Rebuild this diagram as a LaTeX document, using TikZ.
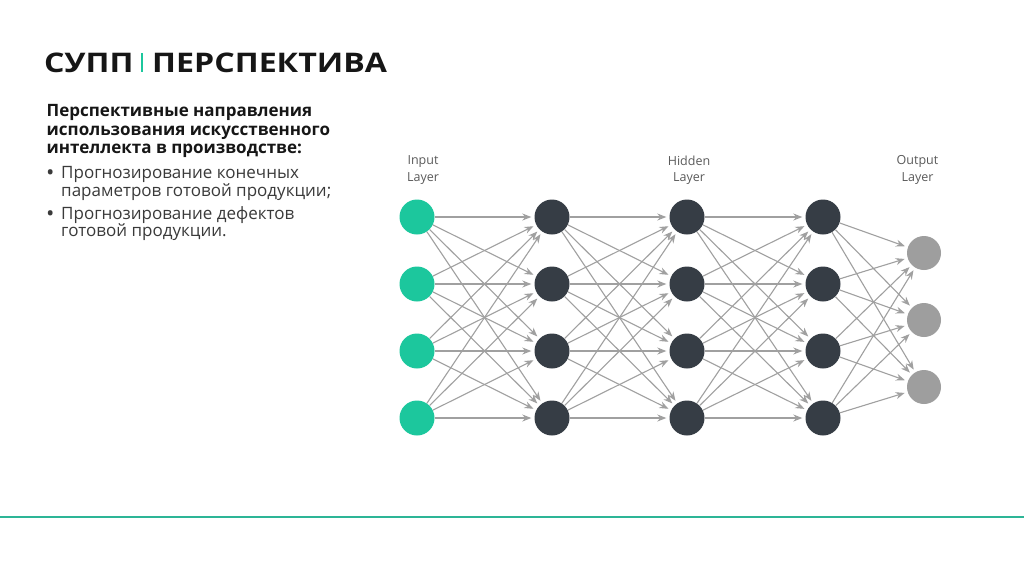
\documentclass[tikz,border=0pt]{standalone}
\usepackage{fontspec}
\setmainfont{Open Sans}
\usetikzlibrary{arrows.meta}
\definecolor{teal1}{HTML}{1CC79D}
\definecolor{darknode}{HTML}{363D45}
\definecolor{outnode}{HTML}{9E9E9E}
\definecolor{edgecol}{HTML}{A0A0A0}
\definecolor{labelcol}{HTML}{5A5A5A}
\definecolor{bodycol}{HTML}{3A3A3A}
\definecolor{headcol}{HTML}{161616}
\definecolor{linecol}{HTML}{2DB596}
\tikzset{
  neuron/.style={circle, minimum size=35pt, inner sep=0pt},
  innode/.style={neuron, fill=teal1},
  hidnode/.style={neuron, fill=darknode},
  outn/.style={neuron, minimum size=34pt, fill=outnode},
  conn/.style={draw=edgecol, line width=1.1pt, -{Stealth[length=9pt,width=7pt]}, shorten >=3pt},
  layerlabel/.style={font=\fontsize{12.5}{16.5}\selectfont, text=labelcol, align=center, inner sep=0pt},
  bodytext/.style={anchor=base west, inner sep=0pt, font=\fontsize{17}{18}\selectfont, text=bodycol},
  headtext/.style={anchor=base west, inner sep=0pt, font=\fontsize{17}{18}\selectfont\bfseries, text=headcol},
}
\begin{document}
\begin{tikzpicture}[x=1pt,y=-1pt]
\useasboundingbox (0,0) rectangle (1024,574);
\fill[white] (0,0) rectangle (1024,574);

% title
\node[anchor=base west, inner sep=0pt, font=\fontsize{27}{30}\selectfont\bfseries, text=headcol, xscale=1.19] (t1) at (44,72) {СУПП};
\node[anchor=base west, inner sep=0pt, font=\fontsize{27}{30}\selectfont\bfseries, text=headcol, xscale=1.19] (t2) at (152,72) {ПЕРСПЕКТИВА};
\draw[teal1, line width=1.8pt] (141.7,53) -- (141.7,72);

% left text
\node[headtext] (h1) at (46.5,116.7) {Перспективные направления};
\node[headtext] (h2) at (46.5,135.3) {использования искусственного};
\node[headtext] (h3) at (46.5,153.3) {интеллекта в производстве:};
\node[bodytext, font=\fontsize{17}{18}\selectfont\bfseries] (b1d) at (47,178.5) {•};
\node[bodytext] (b1) at (61,178.5) {Прогнозирование конечных};
\node[bodytext] (b1b) at (61,196) {параметров готовой продукции;};
\node[bodytext, font=\fontsize{17}{18}\selectfont\bfseries] (b2d) at (47,219) {•};
\node[bodytext] (b2) at (61,219) {Прогнозирование дефектов};
\node[bodytext] (b2b) at (61,236.5) {готовой продукции.};

% layer labels
\node[layerlabel] (lin) at (423,170) {Input\\Layer};
\node[layerlabel] (lhid) at (689,170) {Hidden\\Layer};
\node[layerlabel] (lout) at (917.5,170) {Output\\Layer};

% neurons
\foreach \i/\y in {1/217,2/284,3/351,4/418}{
  \node[innode] (a\i) at (417,\y) {};
  \node[hidnode] (b\i) at (552,\y) {};
  \node[hidnode] (c\i) at (687,\y) {};
  \node[hidnode] (d\i) at (823,\y) {};
}
\foreach \i/\y in {1/253,2/320,3/387}{
  \node[outn] (o\i) at (924,\y) {};
}

% connections
\foreach \i in {1,...,4}{
  \foreach \j in {1,...,4}{
    \draw[conn] (a\i) -- (b\j);
    \draw[conn] (b\i) -- (c\j);
    \draw[conn] (c\i) -- (d\j);
  }
  \foreach \j in {1,2,3}{
    \draw[conn] (d\i) -- (o\j);
  }
}

% bottom line
\draw[linecol, line width=1.6pt] (0,517) -- (1024,517);
\end{tikzpicture}
\end{document}
